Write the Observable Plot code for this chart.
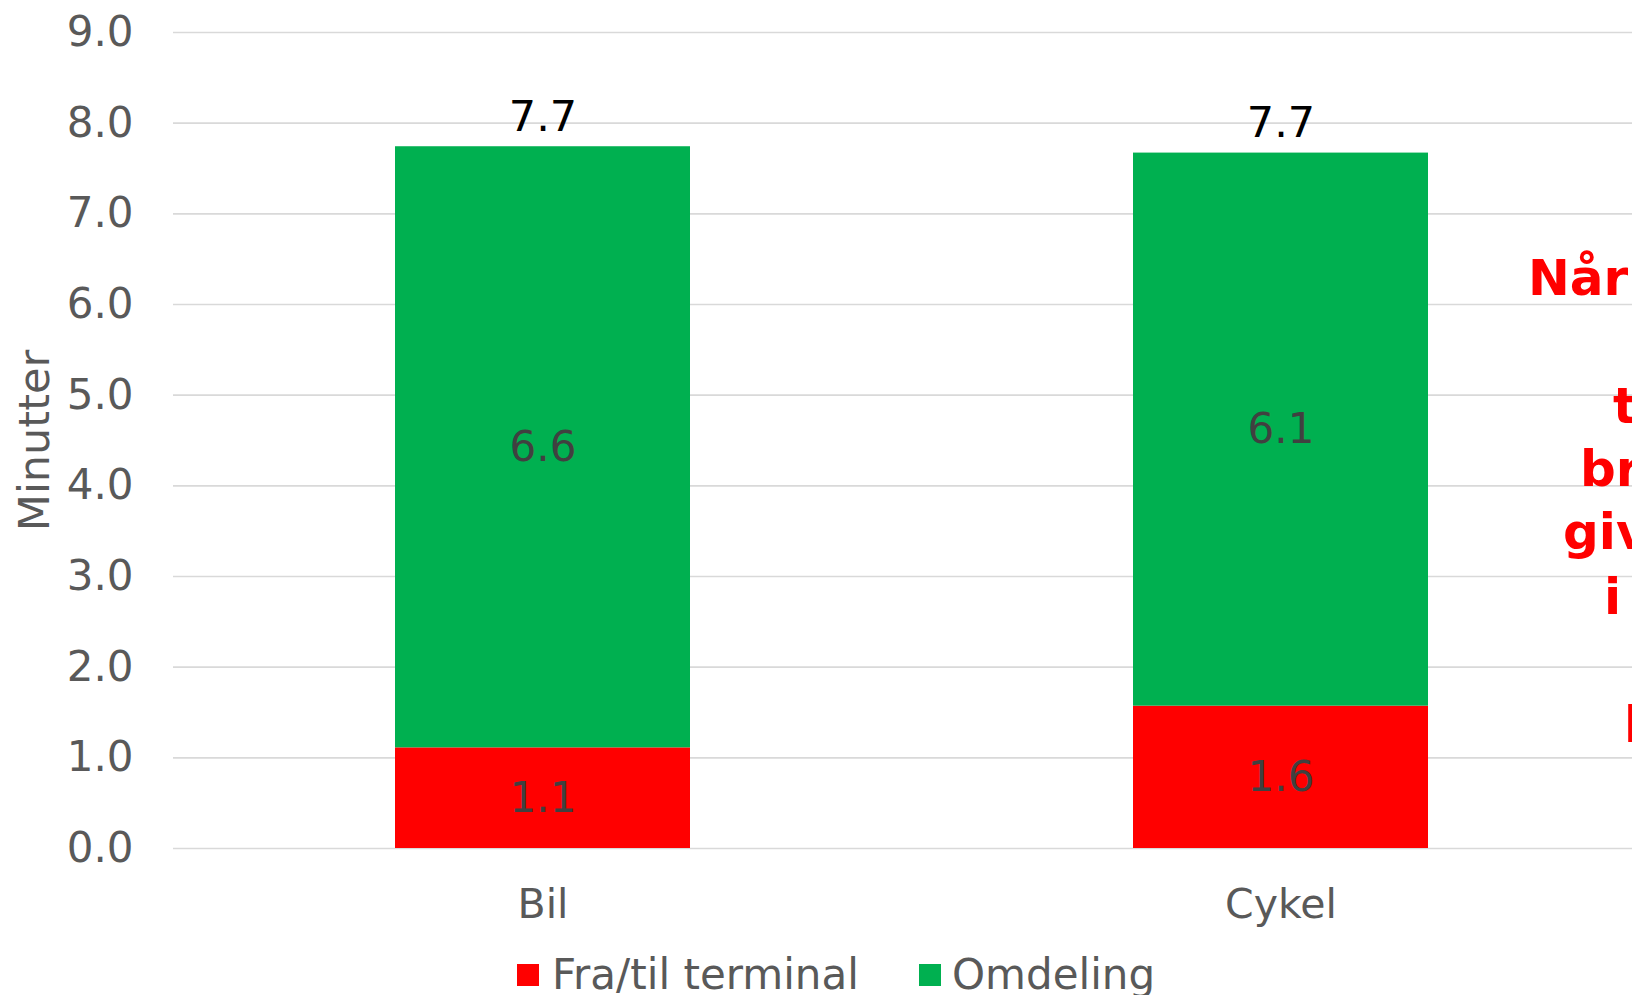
<!DOCTYPE html>
<html>
<head>
<meta charset="utf-8">
<script src="https://cdn.jsdelivr.net/npm/d3@7"></script>
<script src="https://cdn.jsdelivr.net/npm/@observablehq/plot@0.6"></script>
<style>
  html, body { margin: 0; padding: 0; background: #fff; overflow: hidden; width: 1632px; height: 995px; }
  #wrap { position: relative; width: 1632px; height: 995px; overflow: hidden; }
  #chart svg { display: block; }
  #legend { position: absolute; left: 0; top: 940px; display: block; }
  #note { position: absolute; left: 0; top: 0; pointer-events: none; }
</style>
</head>
<body>
<div id="wrap">
  <div id="chart"></div>
  <svg id="legend" width="1632" height="55"></svg>
  <svg id="note" width="1632" height="995"></svg>
</div>
<script>
// ---- data ----
const categories = ["Bil", "Cykel"];
const seriesNames = ["Fra/til terminal", "Omdeling"];
const seriesColors = ["#FF0000", "#00B050"];
const fraTilTerminal = [1.11, 1.57];
const omdeling = [6.63, 6.10];
const yTicks = [0, 1, 2, 3, 4, 5, 6, 7, 8, 9];
const yLabel = "Minutter";
const noteLines = ["Når", "t", "br", "giv", "i", "l"];

// ---- tables built from the arrays ----
const rows = [];
categories.forEach((c, i) => {
  rows.push({cat: c, series: seriesNames[0], value: fraTilTerminal[i]});
  rows.push({cat: c, series: seriesNames[1], value: omdeling[i]});
});
const totalRows = categories.map((c, i) => ({cat: c, total: fraTilTerminal[i] + omdeling[i]}));

const chart = Plot.plot({
  width: 1632,
  height: 940,
  marginLeft: 173,
  marginRight: 0,
  marginTop: 32,
  marginBottom: 92,
  style: {fontFamily: "'DejaVu Sans', Verdana, sans-serif", fontSize: "42px", color: "#595959", background: "white"},
  x: {domain: categories, range: [174, 1650], paddingInner: 0.6, paddingOuter: 0.3, label: null},
  y: {domain: [0, 9], label: null},
  color: {domain: seriesNames, range: seriesColors},
  marks: [
    Plot.gridY(yTicks, {stroke: "#D9D9D9", strokeOpacity: 1, strokeWidth: 1.6}),
    Plot.barY(rows, Plot.stackY({x: "cat", y: "value", fill: "series", order: seriesNames})),
    Plot.text(rows, Plot.stackY({
      x: "cat", y: "value", z: "series", order: seriesNames,
      text: d => d.value.toFixed(1), fill: "#404040", fontSize: 42
    })),
    Plot.text(totalRows, {x: "cat", y: "total", text: d => d.total.toFixed(1), dy: -30, fill: "#000000", fontSize: 43}),
    Plot.axisY(yTicks, {tickFormat: d => d.toFixed(1), tickSize: 0, tickPadding: 40, fontSize: 42, fill: "#595959", label: null}),
    Plot.axisX({tickSize: 0, tickPadding: 40, fontSize: 41, fill: "#595959", label: null}),
    Plot.text([yLabel], {frameAnchor: "left", textAnchor: "middle", lineAnchor: "middle", dx: -138, rotate: -90, text: d => d, fontSize: 43, fill: "#595959"})
  ]
});
document.getElementById("chart").appendChild(chart);

// ---- legend (below the plot) ----
const legend = d3.select("#legend");
const legendItems = [
  {name: seriesNames[0], color: seriesColors[0], sx: 517, tx: 552},
  {name: seriesNames[1], color: seriesColors[1], sx: 919, tx: 952}
];
legendItems.forEach(it => {
  legend.append("rect").attr("x", it.sx).attr("y", 24).attr("width", 22).attr("height", 22).attr("fill", it.color);
  legend.append("text")
    .attr("x", it.tx).attr("y", 49)
    .attr("font-family", "'DejaVu Sans', sans-serif")
    .attr("font-size", 42)
    .attr("fill", "#595959")
    .text(it.name);
});

// ---- red annotation text (cut off at the right edge) ----
const note = d3.select("#note");
const notePos = [[1528, 295], [1613, 423], [1580, 486], [1563, 549], [1604, 614], [1624, 742]];
noteLines.forEach((t, i) => {
  note.append("text")
    .attr("x", notePos[i][0]).attr("y", notePos[i][1])
    .attr("font-family", "'DejaVu Sans', sans-serif")
    .attr("font-weight", "bold")
    .attr("font-size", 50)
    .attr("fill", "#FF0000")
    .text(t);
});
</script>
</body>
</html>
